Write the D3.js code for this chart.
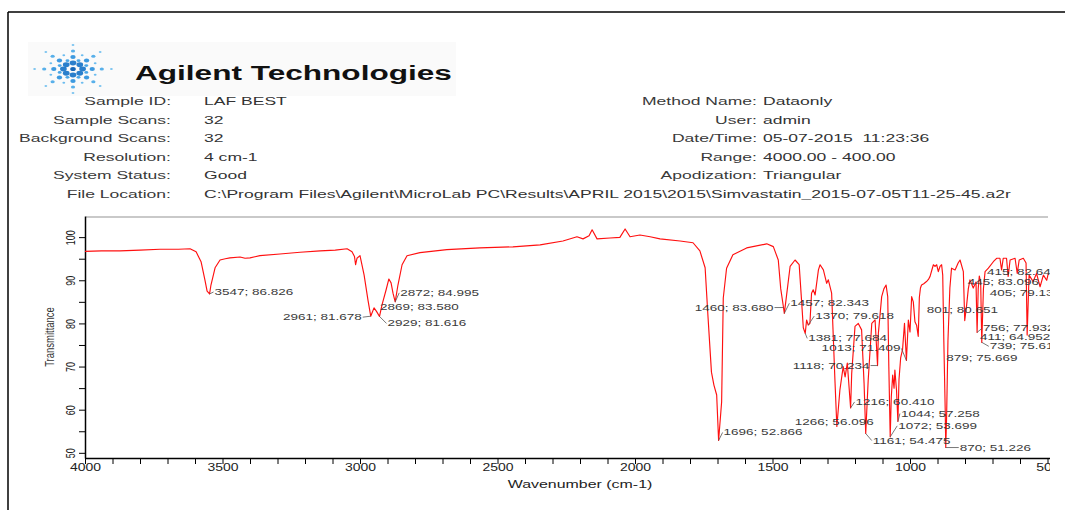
<!DOCTYPE html>
<html><head><meta charset="utf-8">
<script src="https://cdn.jsdelivr.net/npm/d3@7"></script>
<style>
body{margin:0;background:#fff}
svg{display:block}
text{font-family:"Liberation Sans",Arial,sans-serif;white-space:pre}
</style>
</head><body>
<svg id="c" width="1065" height="510"></svg>
<script>
// ---------------- data ----------------
const wavenumbers = [4000,3940,3873,3800,3727,3660,3618,3596,3578,3564,3556,3547,3542,3527,3509,3490,3473,3436,3418,3400,3364,3291,3218,3145,3090,3047,3029,3020,3016,3011,3000,2985,2971,2961,2949,2940,2929,2920,2905,2895,2887,2880,2872,2862,2847,2829,2782,2684,2564,2444,2345,2262,2211,2189,2167,2156,2138,2091,2055,2036,2018,1982,1945,1909,1836,1789,1764,1745,1735,1722,1713,1703,1696,1685,1679,1667,1644,1594,1521,1497,1479,1470,1460,1457,1451,1436,1418,1403,1394,1388,1381,1376,1370,1364,1358,1352,1345,1333,1327,1315,1303,1297,1285,1273,1266,1255,1243,1236,1228,1216,1212,1200,1188,1176,1167,1161,1152,1139,1127,1118,1115,1103,1095,1087,1081,1077,1072,1068,1063,1058,1055,1049,1044,1040,1034,1027,1020,1013,1006,1000,994,988,982,976,970,966,962,958,950,940,933,927,920,915,909,903,897,891,885,881,877,872,870,867,862,855,849,836,825,818,806,801,794,788,782,770,760,756,752,748,743,739,733,727,715,697,685,673,667,661,649,643,636,618,610,603,588,578,574,567,552,540,527,515,503,497];
const transmittance = [96.7,96.8,96.8,97.0,97.2,97.2,97.3,96.6,94.3,90.1,87.5,86.83,88.9,92.9,94.7,95.0,95.2,95.4,95.1,95.2,95.7,96.1,96.5,96.8,97.0,97.3,96.6,95.5,93.6,95.1,95.7,91.2,85.4,81.68,83.6,82.8,81.62,84.3,87.8,90.3,89.4,87.0,85.0,88.9,93.6,95.7,96.4,97.1,97.5,97.75,98.2,99.1,100.1,99.6,100.3,101.7,99.6,99.8,99.95,101.9,100.1,100.5,100.1,99.6,99.1,98.7,96.8,92.9,82.0,68.7,65.7,63.4,52.87,61.8,85.9,92.8,95.9,97.5,98.45,97.8,94.7,88.0,83.68,82.34,85.4,93.2,94.7,93.6,85.0,79.0,77.68,80.8,79.62,80.0,87.0,87.8,86.6,92.4,93.6,92.4,89.3,90.1,87.0,66.9,56.1,64.5,70.0,67.6,70.8,60.41,68.4,79.3,80.0,78.5,66.1,54.48,66.9,80.0,80.8,70.23,77.7,86.2,88.0,88.9,86.2,70.0,53.7,63.0,68.0,65.0,69.2,64.5,57.26,67.0,72.0,74.0,80.0,71.41,80.8,78.0,86.2,85.0,80.4,79.6,77.0,86.0,88.2,88.9,89.2,89.7,90.2,90.9,92.5,93.6,93.2,93.6,92.0,93.2,93.6,91.2,76.0,60.0,51.23,58.0,76.0,88.2,92.8,92.4,94.0,94.7,92.0,80.65,84.3,88.0,90.1,88.2,89.6,77.9,88.0,91.0,89.5,75.6,88.0,92.0,92.8,94.3,95.1,95.1,92.4,95.1,95.1,90.9,94.7,95.1,91.6,94.7,95.1,94.0,77.3,91.2,89.7,91.6,88.5,91.2,90.0,91.6];

const peakWavenumbers   = [3547,2961,2929,2869,2872,1696,1460,1457,1370,1381,1013,1118,1216,1266,1044,1072,1161,870,879,801,756,411,739,415,445,405];
const peakTransmittance = [86.826,81.678,81.616,83.580,84.995,52.866,83.680,82.343,79.618,77.684,71.409,70.234,60.410,56.096,57.258,53.699,54.475,51.226,75.669,80.651,77.932,64.952,75.617,82.641,83.096,79.138];

const xTickLabels = [4000,3500,3000,2500,2000,1500,1000,500];
const yTickLabels = [50,60,70,80,90,100];

const headerLeftLabels  = ["Sample ID:","Sample Scans:","Background Scans:","Resolution:","System Status:","File Location:"];
const headerLeftValues  = ["LAF BEST","32","32","4 cm-1","Good","C:\\Program Files\\Agilent\\MicroLab PC\\Results\\APRIL 2015\\2015\\Simvastatin_2015-07-05T11-25-45.a2r"];
const headerRightLabels = ["Method Name:","User:","Date/Time:","Range:","Apodization:"];
const headerRightValues = ["Dataonly","admin","05-07-2015  11:23:36","4000.00 - 400.00","Triangular"];

// label placement (layout, not data): [dx, dy, anchor, leader]
const labelLayout = [
  [5,1,"start",1],[-9,4,"end",1],[8,10,"start",1],[-16,2,"start",0],[5,-6,"start",1],
  [5,-5,"start",1],[-10,3,"end",1],[6,-7,"start",1],[7,-6,"start",1],[3,8,"start",1],
  [-6,-9,"end",1],[-8,3,"end",1],[5,-3,"start",1],[-42,-2,"start",0],[3,-5,"start",1],
  [8,-8,"start",1],[7,10,"start",1],[14,3,"start",1],[3,19,"start",0],[-38,-8,"start",0],
  [6,-1,"start",1],[-92,-48,"start",0],[8,7,"start",1],[-84,-37,"start",0],[-95,-25,"start",0],[-84,-31,"start",0]
];

// ---------------- drawing ----------------
const svg = d3.select("#c");

function stretchText(parent, x, y, sx, str, size, anchor, fill, weight){
  const g = parent.append("g").attr("transform", `translate(${x},${y}) scale(${sx},1)`);
  return g.append("text").attr("font-size", size).attr("text-anchor", anchor||"start")
    .attr("fill", fill||"#222").attr("font-weight", weight||"normal").text(str);
}

// page frame
svg.append("line").attr("x1",8).attr("y1",12).attr("x2",1065).attr("y2",12).attr("stroke","#000").attr("stroke-width",1.5);
svg.append("line").attr("x1",8).attr("y1",12).attr("x2",8).attr("y2",510).attr("stroke","#000").attr("stroke-width",1.5);

// logo
svg.append("rect").attr("x",28).attr("y",42).attr("width",428).attr("height",54).attr("fill","#fafafa");
const logo = svg.append("g").attr("transform","translate(73,69)");
const mainRays = d3.range(0,360,45), minorRays = d3.range(22.5,360,45);
mainRays.forEach(a=>{
  [[6,2.4,"#2a7fcc"],[12,1.9,"#3d9ae0"],[18,1.5,"#58b0ea"],[24,1.0,"#7cc4f0"]].forEach(([r,s,c])=>{
    const rad=a*Math.PI/180;
    logo.append("ellipse").attr("cx",Math.cos(rad)*r*1.6).attr("cy",Math.sin(rad)*r).attr("rx",s*1.4).attr("ry",s).attr("fill",c);
  });
});
minorRays.forEach(a=>{
  [[9,1.4,"#4aa6e6"],[15,1.0,"#6cbcef"]].forEach(([r,s,c])=>{
    const rad=a*Math.PI/180;
    logo.append("ellipse").attr("cx",Math.cos(rad)*r*1.6).attr("cy",Math.sin(rad)*r).attr("rx",s*1.4).attr("ry",s).attr("fill",c);
  });
});
logo.append("ellipse").attr("rx",2.8).attr("ry",2).attr("fill","#1466b8");

const brand = stretchText(svg,135,80,1,"Agilent Technologies",20,"start","#111","bold");
const bw = brand.node().getComputedTextLength();
d3.select(brand.node().parentNode).attr("transform",`translate(135,80) scale(${317/bw},1)`);

// header
const rowY = [105,124,142,161,179,198];
const hs = 10;
const probe = stretchText(svg,204,rowY[5],1,headerLeftValues[5],hs,"start","#333");
const hsx = 808/probe.node().getComputedTextLength();
d3.select(probe.node().parentNode).remove();
headerLeftLabels.forEach((t,i)=>stretchText(svg,171,rowY[i],hsx,t,hs,"end","#3a3a3a"));
headerLeftValues.forEach((t,i)=>stretchText(svg,204,rowY[i],hsx,t,hs,"start","#333"));
headerRightLabels.forEach((t,i)=>stretchText(svg,757,rowY[i],hsx,t,hs,"end","#3a3a3a"));
headerRightValues.forEach((t,i)=>stretchText(svg,763,rowY[i],hsx,t,hs,"start","#333"));

// chart
svg.append("defs").append("clipPath").attr("id","clipR").append("rect").attr("x",0).attr("y",0).attr("width",1050).attr("height",510);
const chart = svg.append("g").attr("clip-path","url(#clipR)");

const x = d3.scaleLinear().domain([4000,400]).range([85,1075]);
const y = d3.scaleLinear().domain([48.8,104.9]).range([458,216]);

chart.append("line").attr("x1",86).attr("x2",1048).attr("y1",217).attr("y2",217).attr("stroke","#c9c9c9").attr("stroke-width",2);

const xAxis = d3.axisBottom(x).tickValues(d3.range(400,4001,100)).tickSize(6).tickSizeOuter(0)
  .tickFormat(d=>xTickLabels.includes(d)?String(d):"");
const gx = chart.append("g").attr("transform","translate(0,458)").call(xAxis);
gx.select(".domain").attr("stroke","#000").attr("stroke-width",1.5);
gx.selectAll(".tick line").attr("stroke","#000");
gx.selectAll(".tick text").attr("y",5.5).attr("font-size",10).attr("fill","#222")
  .attr("font-family","Liberation Sans, Arial, sans-serif").attr("transform","scale(1.4,1)");

const yAxis = d3.axisLeft(y).tickValues(d3.range(50,101,5)).tickSize(6).tickSizeOuter(0)
  .tickFormat(d=>yTickLabels.includes(d)?String(d):"");
const gy = chart.append("g").attr("transform","translate(85,0)").call(yAxis);
gy.select(".domain").attr("stroke","#000").attr("stroke-width",1.5);
gy.selectAll(".tick line").attr("stroke","#000");
gy.selectAll(".tick text").attr("x",0).attr("y",0).attr("dy",0).attr("text-anchor","middle")
  .attr("font-size",9).attr("fill","#222").attr("font-family","Liberation Sans, Arial, sans-serif")
  .attr("transform","translate(-10,0) scale(1.45,1) rotate(-90)");

// axis titles
stretchText(chart,580,488,1.45,"Wavenumber (cm-1)",11,"middle","#222");
chart.append("g").attr("transform","translate(54,337) scale(1.3,1) rotate(-90)")
  .append("text").attr("text-anchor","middle").attr("font-size",9.5).attr("fill","#333").text("Transmittance");

// spectrum
const line = d3.line().x(d=>x(d[0])).y(d=>y(d[1]));
chart.append("path").datum(d3.zip(wavenumbers,transmittance)).attr("d",line)
  .attr("fill","none").attr("stroke","#ff1010").attr("stroke-width",1.15).attr("stroke-linejoin","round");

// peak labels
const labels = chart.append("g");
peakWavenumbers.forEach((w,i)=>{
  const t = peakTransmittance[i];
  const [dx,dy,anchor,leader] = labelLayout[i];
  const px = x(w), py = y(t);
  if(leader){
    labels.append("line").attr("x1",px).attr("y1",py)
      .attr("x2",px+dx+(anchor==="end"?1:-1)).attr("y2",py+dy-3)
      .attr("stroke","#555").attr("stroke-width",0.8);
  }
  stretchText(labels,px+dx,py+dy,1.5,`${w}; ${t.toFixed(3)}`,9,anchor,"#3a3a3a");
});
</script>
</body></html>
